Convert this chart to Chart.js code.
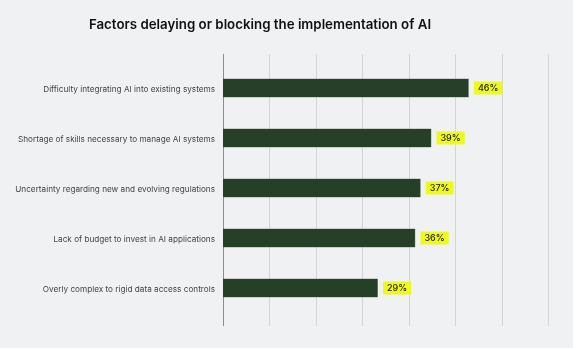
<!DOCTYPE html>
<html>
<head>
<meta charset="utf-8">
<script src="https://cdn.jsdelivr.net/npm/chart.js@4.4.1/dist/chart.umd.min.js"></script>
<style>
  html, body { margin: 0; padding: 0; background: #ffffff; }
  #wrap { width: 573px; height: 348px; background: #f0f1f3; position: relative; }
</style>
</head>
<body>
<div id="wrap"><canvas id="factorsChart" width="573" height="348"></canvas></div>
<script>
const titleText = "Factors delaying or blocking the implementation of AI";
const categories = [
  "Difficulty integrating AI into existing systems",
  "Shortage of skills necessary to manage AI systems",
  "Uncertainty regarding new and evolving regulations",
  "Lack of budget to invest in AI applications",
  "Overly complex to rigid data access controls"
];
const shares = [46, 39, 37, 36, 29];
const axisMax = 60.8;
const gridCount = 7;

// title, vertical grid and the yellow value badges
const extras = {
  id: "extras",
  beforeDatasetsDraw(chart) {
    const ctx = chart.ctx;
    const xs = chart.scales.x;
    const top = chart.chartArea.top - 9;
    const bottom = chart.chartArea.bottom + 13;
    ctx.save();
    ctx.lineWidth = 1;
    for (let i = 1; i <= gridCount; i++) {
      const x = Math.round(xs.getPixelForValue(axisMax * i / gridCount)) + 0.5;
      ctx.strokeStyle = "#d3d5d8";
      ctx.beginPath(); ctx.moveTo(x, top); ctx.lineTo(x, bottom); ctx.stroke();
    }
    const x0 = Math.round(xs.getPixelForValue(0)) + 0.5;
    ctx.strokeStyle = "#8a8c8f";
    ctx.beginPath(); ctx.moveTo(x0, top); ctx.lineTo(x0, bottom); ctx.stroke();
    ctx.restore();
  },
  afterDatasetsDraw(chart) {
    const ctx = chart.ctx;
    ctx.save();
    ctx.font = "600 13.3px Inter";
    ctx.fillStyle = "#111111";
    ctx.textAlign = "center";
    ctx.textBaseline = "middle";
    ctx.fillText(titleText, 260, 25);

    ctx.font = "500 9px Inter";
    ctx.textAlign = "left";
    chart.getDatasetMeta(0).data.forEach((bar, i) => {
      const label = shares[i] + "%";
      const w = ctx.measureText(label).width + 8;
      const bx = bar.x + 5, by = bar.y - 6.5;
      ctx.fillStyle = "#eefa1e";
      ctx.fillRect(bx, by, w, 13);
      ctx.fillStyle = "#222222";
      ctx.fillText(label, bx + 4, bar.y + 0.5);
    });
    ctx.restore();
  }
};

new Chart(document.getElementById("factorsChart"), {
  type: "bar",
  data: {
    labels: categories,
    datasets: [{
      data: shares,
      backgroundColor: "#263f27",
      borderColor: "#5b6b5c",
      borderWidth: 0.5,
      categoryPercentage: 1,
      barPercentage: 0.38
    }]
  },
  options: {
    indexAxis: "y",
    responsive: false,
    animation: false,
    layout: { padding: { top: 63, bottom: 35, right: 25, left: 0 } },
    plugins: { legend: { display: false }, tooltip: { enabled: false } },
    scales: {
      x: { display: false, min: 0, max: axisMax },
      y: {
        grid: { display: false, drawTicks: false },
        border: { display: false },
        ticks: { padding: 8, labelOffset: 1.5, color: "#444444", font: { family: "Inter", size: 8.2 } },
        afterFit(scale) { scale.width = 223; }
      }
    }
  },
  plugins: [extras]
});
</script>
</body>
</html>
